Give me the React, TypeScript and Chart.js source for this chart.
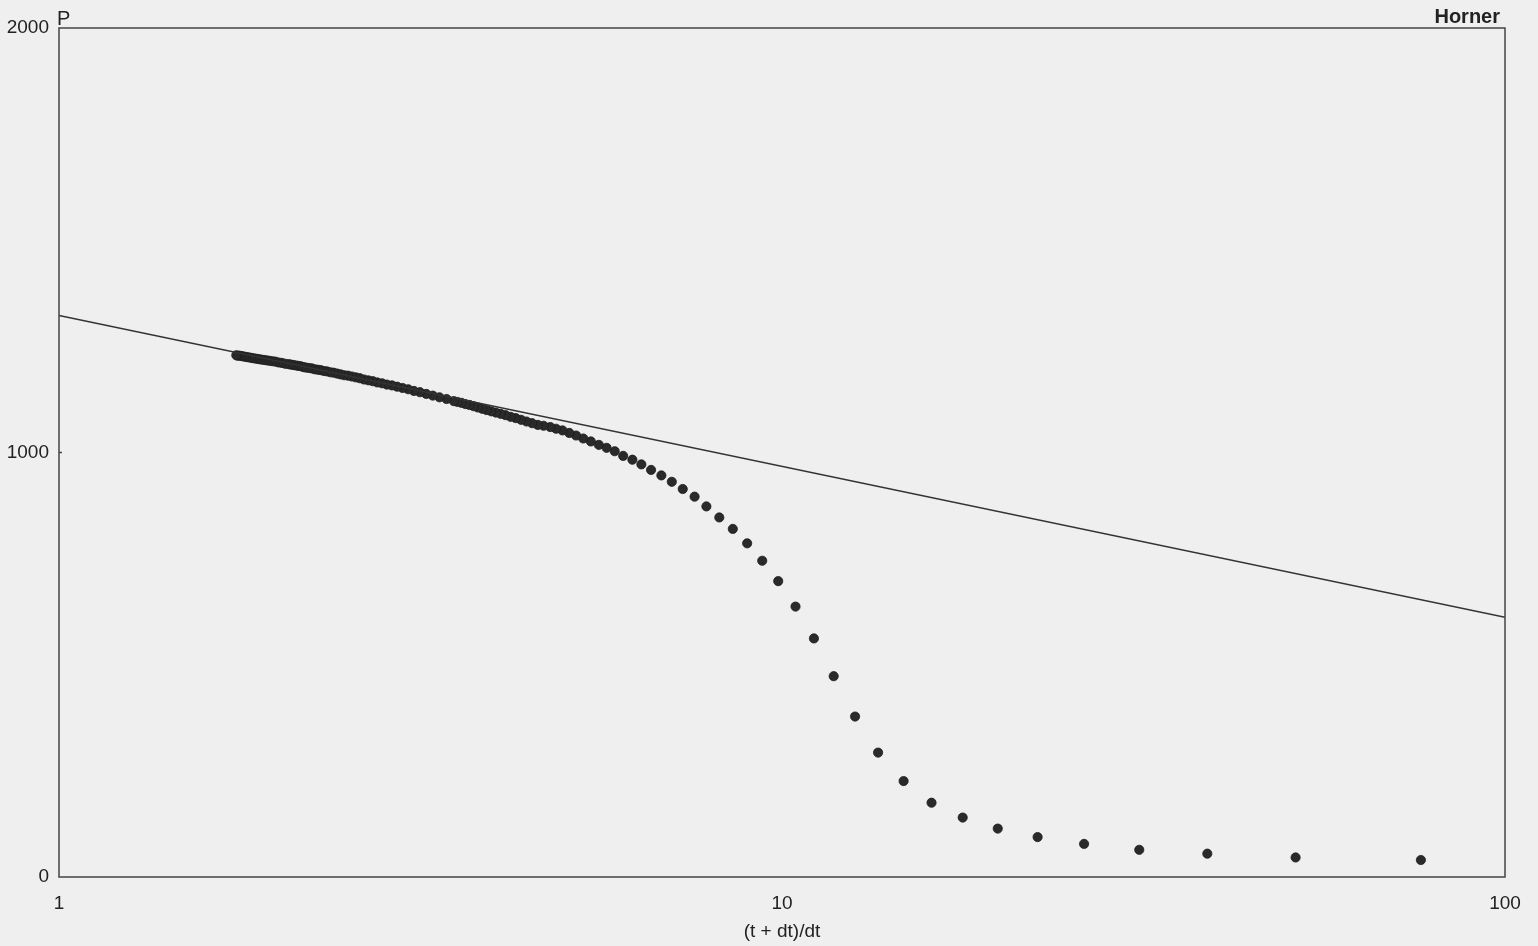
import { useEffect, useRef } from "react";
import { Chart, registerables } from "chart.js";

Chart.register(...registerables);

// Horner plot: (t + dt)/dt versus pressure P
// Right part: clearly separated points
const hornerSparse = [76.5, 51.33, 38.75, 31.2, 26.17, 22.57, 19.88, 17.78, 16.1, 14.73, 13.58, 12.62, 11.79, 11.07, 10.44, 9.88, 9.39, 8.95, 8.55, 8.19, 7.86, 7.57, 7.29, 7.04, 6.81, 6.59, 6.39, 6.21, 6.03, 5.87, 5.72, 5.58, 5.44, 5.31, 5.19, 5.08, 4.97, 4.87, 4.78, 4.68];
const pressureSparse = [40, 46, 55, 64, 78, 94, 114, 140, 175, 226, 293, 378, 473, 562, 637, 697, 745, 786, 820, 847, 873, 896, 914, 931, 946, 959, 972, 983, 992, 1003, 1011, 1018, 1026, 1033, 1040, 1046, 1052, 1056, 1060, 1063];

const hornerTransition = [4.595, 4.512, 4.432, 4.356, 4.283, 4.213, 4.146, 4.082, 4.02, 3.961, 3.904, 3.849, 3.796, 3.746, 3.696, 3.649, 3.603, 3.559, 3.517];
const pressureTransition = [1065, 1069, 1073, 1077, 1081, 1084, 1088, 1091, 1094, 1097, 1100, 1103, 1106, 1109, 1112, 1114, 1117, 1119, 1121];

const hornerDense = [3.436, 3.359, 3.288, 3.221, 3.157, 3.097, 3.041, 2.987, 2.936, 2.888, 2.841, 2.798, 2.756, 2.716, 2.678, 2.641, 2.606, 2.573, 2.541, 2.51, 2.48, 2.452, 2.425, 2.398, 2.373, 2.348, 2.325, 2.302, 2.28, 2.258, 2.238, 2.218, 2.198, 2.18, 2.162, 2.144, 2.127, 2.11, 2.094, 2.079];
const pressureDense = [1126, 1130, 1134, 1138, 1142, 1145, 1149, 1152, 1155, 1158, 1160, 1163, 1165, 1168, 1170, 1172, 1175, 1177, 1179, 1181, 1182, 1184, 1186, 1188, 1189, 1191, 1192, 1194, 1195, 1196, 1198, 1199, 1200, 1201, 1203, 1204, 1205, 1206, 1207, 1208];

const hornerDensest = [2.056, 2.034, 2.013, 1.993, 1.974, 1.956, 1.938, 1.921, 1.904, 1.888, 1.873, 1.858, 1.844, 1.83, 1.816, 1.803, 1.791, 1.778, 1.767, 1.759];
const pressureDensest = [1209, 1211, 1212, 1214, 1215, 1216, 1217, 1218, 1219, 1220, 1221, 1222, 1223, 1224, 1225, 1226, 1227, 1228, 1228, 1229];

// Fitted semilog straight line
const fitLineX = [1, 100];
const fitLineP = [1323, 612];

const xTickValues = [1, 10, 100];
const yTickValues = [0, 1000, 2000];

const FONT = "'Liberation Sans', Arial, Helvetica, sans-serif";
const INK = "#222222";

export default function App() {
  const ref = useRef<HTMLCanvasElement>(null);

  useEffect(() => {
    if (!ref.current) return;
    const xs = [...hornerSparse, ...hornerTransition, ...hornerDense, ...hornerDensest];
    const ps = [...pressureSparse, ...pressureTransition, ...pressureDense, ...pressureDensest];
    const points = xs.map((x, i) => ({ x, y: ps[i] }));
    const line = fitLineX.map((x, i) => ({ x, y: fitLineP[i] }));

    const framePlugin = {
      id: "frame",
      afterDraw(chart: any) {
        const { ctx, chartArea: a } = chart;
        ctx.save();
        ctx.strokeStyle = "#444444";
        ctx.lineWidth = 1.5;
        ctx.strokeRect(a.left, a.top, a.right - a.left, a.bottom - a.top);
        const y1000 = chart.scales.y.getPixelForValue(1000);
        ctx.beginPath();
        ctx.moveTo(a.left, y1000);
        ctx.lineTo(a.left + 3, y1000);
        ctx.stroke();
        ctx.fillStyle = INK;
        ctx.textAlign = "left";
        ctx.textBaseline = "alphabetic";
        ctx.font = `20px ${FONT}`;
        ctx.fillText("P", a.left - 2, a.top - 3);
        ctx.textAlign = "right";
        ctx.font = `bold 20px ${FONT}`;
        ctx.fillText("Horner", 1500, 23);
        ctx.restore();
      },
    };

    const chart = new Chart(ref.current, {
      type: "scatter",
      data: {
        datasets: [
          {
            label: "fit",
            data: line,
            showLine: true,
            borderColor: "#333333",
            borderWidth: 1.5,
            pointRadius: 0,
            fill: false,
          },
          {
            label: "P",
            data: points,
            showLine: false,
            pointRadius: 4.6,
            pointBackgroundColor: "#2a2a2a",
            pointBorderColor: "#1c1c1c",
            pointBorderWidth: 0.8,
          },
        ],
      },
      options: {
        animation: false,
        responsive: false,
        devicePixelRatio: 1,
        layout: { padding: { top: 28, right: 33, left: 0, bottom: 0 } },
        plugins: {
          legend: { display: false },
          tooltip: { enabled: false },
        },
        scales: {
          x: {
            type: "logarithmic",
            min: 1,
            max: 100,
            position: "bottom",
            grid: { display: false, drawTicks: false },
            border: { display: false },
            afterBuildTicks: (s: any) => {
              s.ticks = xTickValues.map((v) => ({ value: v }));
            },
            afterFit: (s: any) => {
              s.height = 69;
            },
            ticks: {
              autoSkip: false,
              maxRotation: 0,
              padding: 15,
              color: INK,
              font: { family: FONT, size: 19 },
              callback: (v: any) => String(v),
            },
            title: {
              display: true,
              text: "(t + dt)/dt",
              color: INK,
              font: { family: FONT, size: 19 },
              padding: { top: 0, bottom: 3 },
            },
          },
          y: {
            type: "linear",
            min: 0,
            max: 2000,
            grid: { display: false, drawTicks: false },
            border: { display: false },
            afterBuildTicks: (s: any) => {
              s.ticks = yTickValues.map((v) => ({ value: v }));
            },
            afterFit: (s: any) => {
              s.width = 59;
            },
            ticks: {
              padding: 10,
              color: INK,
              font: { family: FONT, size: 19 },
              callback: (v: any) => String(v),
            },
          },
        },
      },
      plugins: [framePlugin],
    });
    return () => chart.destroy();
  }, []);

  return (
    <div
      style={{
        position: "absolute",
        left: 0,
        top: 0,
        width: 1538,
        height: 946,
        background: "#efefef",
      }}
    >
      <canvas ref={ref} width={1538} height={946} style={{ display: "block" }} />
    </div>
  );
}
